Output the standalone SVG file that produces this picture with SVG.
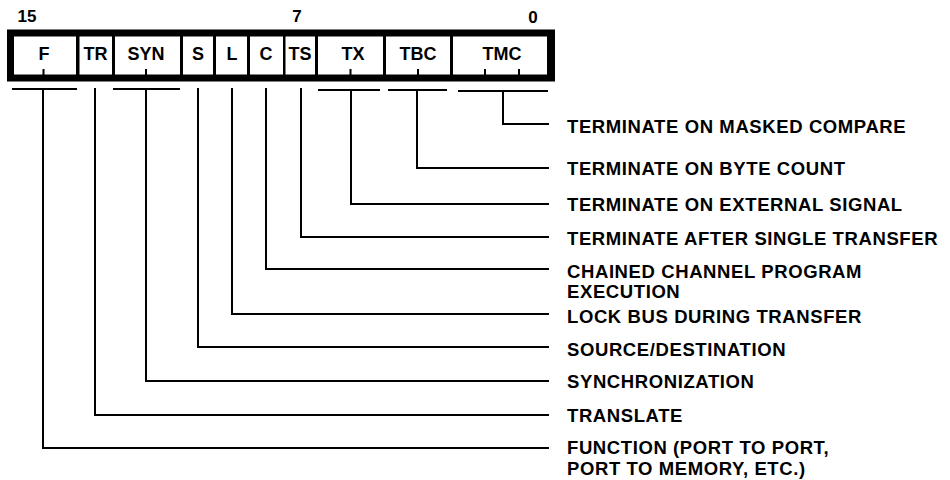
<svg xmlns="http://www.w3.org/2000/svg" width="950" height="480" viewBox="0 0 950 480">
<style>
.cell{fill:#fff;stroke:none}
.fl{font-family:"Liberation Sans",Arial,sans-serif;font-weight:bold;font-size:18px;fill:#000;text-anchor:middle}
.num{font-family:"Liberation Sans",Arial,sans-serif;font-weight:bold;font-size:17px;fill:#000;text-anchor:middle}
.lbl{font-family:"Liberation Sans",Arial,sans-serif;font-weight:bold;font-size:18.5px;letter-spacing:0.6px;fill:#000}
.tick{fill:#000}
.conn path{fill:none;stroke:#000;stroke-width:2}
</style>
<rect width="950" height="480" fill="#fff"/>
<g id="bit-numbers">
<text class="num" x="27" y="22">15</text>
<text class="num" x="297" y="22">7</text>
<text class="num" x="533" y="23">0</text>
</g>
<g id="register">
<rect x="7" y="29.5" width="548" height="52" fill="#000"/>
<g id="field-F"><rect class="cell" x="14" y="36.5" width="62" height="38"/><text class="fl" x="44" y="60">F</text><rect class="tick" x="42.5" y="69" width="2" height="6"/></g>
<g id="field-TR"><rect class="cell" x="79.5" y="36.5" width="32.5" height="38"/><text class="fl" x="95.5" y="60">TR</text></g>
<g id="field-SYN"><rect class="cell" x="115" y="36.5" width="65" height="38"/><text class="fl" x="146" y="60">SYN</text><rect class="tick" x="145" y="69" width="2" height="6"/></g>
<g id="field-S"><rect class="cell" x="183" y="36.5" width="30" height="38"/><text class="fl" x="198" y="60">S</text></g>
<g id="field-L"><rect class="cell" x="216" y="36.5" width="31" height="38"/><text class="fl" x="232" y="60">L</text></g>
<g id="field-C"><rect class="cell" x="250" y="36.5" width="33" height="38"/><text class="fl" x="266" y="60">C</text></g>
<g id="field-TS"><rect class="cell" x="285.5" y="36.5" width="29.5" height="38"/><text class="fl" x="300" y="60">TS</text></g>
<g id="field-TX"><rect class="cell" x="318" y="36.5" width="65" height="38"/><text class="fl" x="353" y="60">TX</text><rect class="tick" x="349.5" y="69" width="2" height="6"/></g>
<g id="field-TBC"><rect class="cell" x="386" y="36.5" width="64" height="38"/><text class="fl" x="418" y="60">TBC</text><rect class="tick" x="417" y="69" width="2" height="6"/></g>
<g id="field-TMC"><rect class="cell" x="453" y="36.5" width="94" height="38"/><text class="fl" x="502" y="60">TMC</text><rect class="tick" x="484" y="69" width="2" height="6"/><rect class="tick" x="518" y="69" width="2" height="6"/></g>
</g>
<g id="connectors" class="conn">
<path d="M12,89 H77 M43,89 V448 H549"/>
<path d="M95,88 V415 H549"/>
<path d="M113,89 H180 M146,89 V381 H549"/>
<path d="M198,88 V347 H549"/>
<path d="M232,88 V314 H549"/>
<path d="M266,88 V269 H549"/>
<path d="M301,88 V237 H549"/>
<path d="M318,90 H380 M351,90 V204 H549"/>
<path d="M388,90 H447 M417,90 V168 H549"/>
<path d="M458,91 H548 M503,91 V124 H549"/>
</g>
<g id="labels">
<text class="lbl" x="567" y="133">TERMINATE ON MASKED COMPARE</text>
<text class="lbl" x="567" y="175">TERMINATE ON BYTE COUNT</text>
<text class="lbl" x="567" y="211">TERMINATE ON EXTERNAL SIGNAL</text>
<text class="lbl" x="567" y="245">TERMINATE AFTER SINGLE TRANSFER</text>
<text class="lbl" x="567" y="278">CHAINED CHANNEL PROGRAM</text>
<text class="lbl" x="567" y="298">EXECUTION</text>
<text class="lbl" x="567" y="323">LOCK BUS DURING TRANSFER</text>
<text class="lbl" x="567" y="356">SOURCE/DESTINATION</text>
<text class="lbl" x="567" y="388">SYNCHRONIZATION</text>
<text class="lbl" x="567" y="422">TRANSLATE</text>
<text class="lbl" x="567" y="454">FUNCTION (PORT TO PORT,</text>
<text class="lbl" x="567" y="475">PORT TO MEMORY, ETC.)</text>
</g>
</svg>
